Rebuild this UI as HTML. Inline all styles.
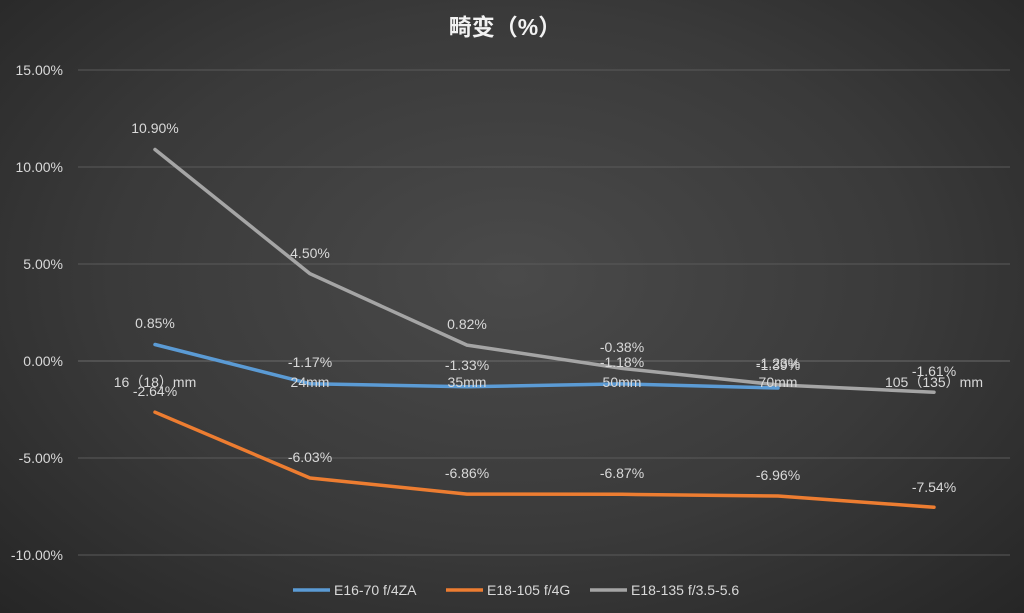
<!DOCTYPE html>
<html><head><meta charset="utf-8"><style>
html,body{margin:0;padding:0;}
body{width:1024px;height:613px;overflow:hidden;background:radial-gradient(ellipse at 50% 45%,#4a4a4a 0%,#3a3a3a 55%,#262626 100%);font-family:"Liberation Sans","Noto Sans CJK SC",sans-serif;}
</style></head><body>
<svg width="1024" height="613" xmlns="http://www.w3.org/2000/svg" style="position:absolute;left:0;top:0">
<g font-family="Liberation Sans, Noto Sans CJK SC, sans-serif">
<text x="505" y="35" fill="#f2f2f2" font-size="23" font-weight="bold" text-anchor="middle">畸变（%）</text>
<g stroke="#5a5a5a" stroke-width="1">
<line x1="78" y1="70" x2="1010" y2="70"/><line x1="78" y1="167" x2="1010" y2="167"/>
<line x1="78" y1="264" x2="1010" y2="264"/><line x1="78" y1="458" x2="1010" y2="458"/>
<line x1="78" y1="555" x2="1010" y2="555"/></g>
<line x1="78" y1="361" x2="1010" y2="361" stroke="#6a6a6a" stroke-width="1"/>
<g fill="#d9d9d9" font-size="14" text-anchor="end">
<text x="63" y="75">15.00%</text><text x="63" y="172">10.00%</text><text x="63" y="269">5.00%</text>
<text x="63" y="366">0.00%</text><text x="63" y="463">-5.00%</text><text x="63" y="560">-10.00%</text></g>
<g fill="none" stroke-width="3.5" stroke-linejoin="round" stroke-linecap="round">
<polyline stroke="#a5a5a5" points="155,149.5 310,273.7 467,345.1 622,368.4 778,384.9 934,392.2"/>
<polyline stroke="#ed7d31" points="155,412.2 310,478 467,494.1 622,494.3 778,496 934,507.3"/>
<polyline stroke="#5b9bd5" points="155,344.5 310,383.7 467,386.8 622,383.9 778,388"/>
</g>
<g fill="#d9d9d9" font-size="14" text-anchor="middle">
<text x="155" y="387">16（18）mm</text><text x="310" y="387">24mm</text><text x="467" y="387">35mm</text>
<text x="622" y="387">50mm</text><text x="778" y="387">70mm</text><text x="934" y="387">105（135）mm</text></g>
<g fill="#d9d9d9" font-size="14" text-anchor="middle">
<text x="155" y="133">10.90%</text><text x="310" y="258">4.50%</text><text x="467" y="329">0.82%</text>
<text x="622" y="352">-0.38%</text><text x="778" y="368">-1.23%</text><text x="934" y="376">-1.61%</text>
<text x="155" y="328">0.85%</text><text x="310" y="367">-1.17%</text><text x="467" y="370">-1.33%</text>
<text x="622" y="367">-1.18%</text><text x="778" y="370">-1.39%</text>
<text x="155" y="396">-2.64%</text><text x="310" y="462">-6.03%</text><text x="467" y="478">-6.86%</text>
<text x="622" y="478">-6.87%</text><text x="778" y="480">-6.96%</text><text x="934" y="492">-7.54%</text>
</g>
<g font-size="14" fill="#d9d9d9">
<line x1="293" y1="590" x2="330" y2="590" stroke="#5b9bd5" stroke-width="3.5"/><text x="334" y="595">E16-70 f/4ZA</text>
<line x1="446" y1="590" x2="483" y2="590" stroke="#ed7d31" stroke-width="3.5"/><text x="487" y="595">E18-105 f/4G</text>
<line x1="590" y1="590" x2="627" y2="590" stroke="#a5a5a5" stroke-width="3.5"/><text x="631" y="595">E18-135 f/3.5-5.6</text>
</g>
</g></svg>
</body></html>
